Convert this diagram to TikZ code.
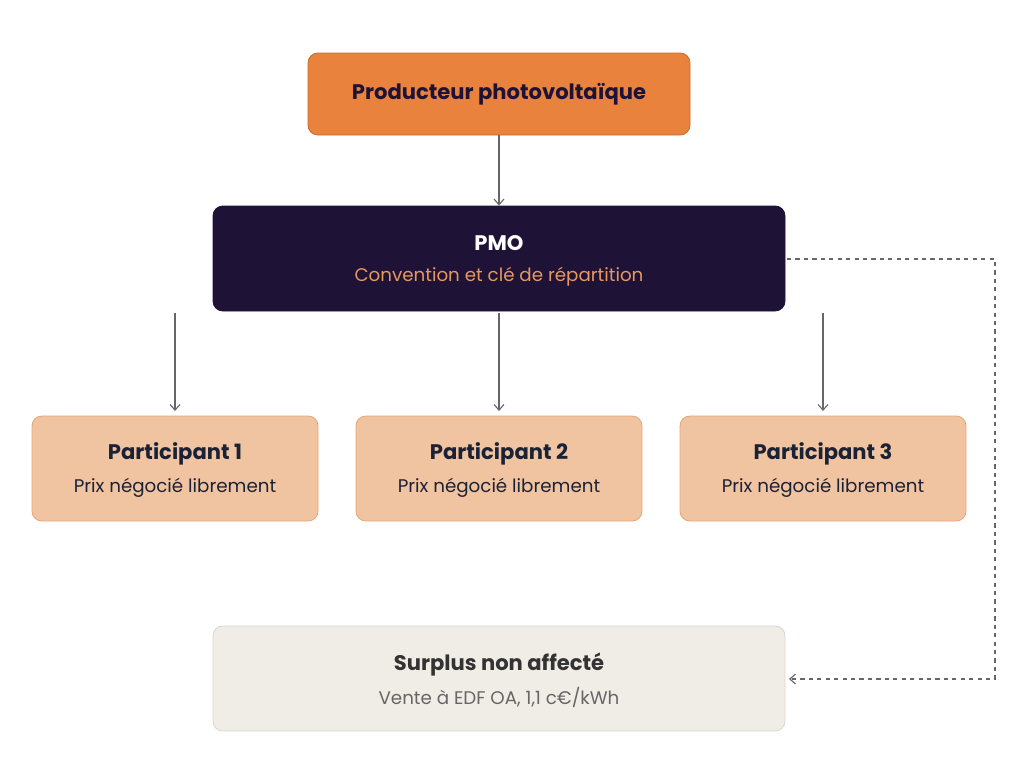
\documentclass[tikz,border=0pt]{standalone}
\usepackage{fontspec}
\setmainfont{Poppins}
\usetikzlibrary{arrows.meta}
\definecolor{navy}{HTML}{1E1236}
\definecolor{orangeA}{HTML}{E8823C}
\definecolor{orangeB}{HTML}{E8975F}
\definecolor{peach}{HTML}{F0C4A0}
\definecolor{peachline}{HTML}{E8A576}
\definecolor{sand}{HTML}{F0EDE6}
\definecolor{sandline}{HTML}{DAD6CE}
\definecolor{darktext}{HTML}{1C2236}
\definecolor{link}{HTML}{666666}
\tikzset{
  box/.style={draw,rounded corners=7pt,line width=0.6pt,inner sep=0pt,align=center},
  title/.style={font=\fontsize{15}{18}\selectfont\bfseries},
  sub/.style={font=\fontsize{13}{16}\selectfont},
  link/.style={draw=link,line width=0.8pt,-{Straight Barb[length=4pt,width=7pt]}}
}
\begin{document}
\begin{tikzpicture}[x=0.025cm,y=-0.025cm]
        \useasboundingbox (0,0) rectangle (1024,778);
        % boxes
        \node[box,fill=orangeA,draw=orangeA!85!black,minimum width=382*0.025cm,minimum height=82*0.025cm,text=navy,title] (prod) at (499,94) {Producteur photovoltaïque};
        \node[box,fill=navy,draw=navy,minimum width=572*0.025cm,minimum height=105*0.025cm] (pmo) at (499,258.5) {};
        \node[text=white,title] (pmot) at (499,243) {PMO};
        \node[text=orangeB,sub] (pmos) at (499,277) {Convention et clé de répartition};

        \foreach \i/\x in {1/175,2/499,3/823} {
          \node[box,fill=peach,draw=peachline,minimum width=286*0.025cm,minimum height=105*0.025cm] (part\i) at (\x,468.5) {};
          \node[text=darktext,title] (part\i t) at (\x,454) {Participant \i};
          \node[text=darktext,sub] (part\i s) at (\x,488) {Prix négocié librement};
          \coordinate (src\i) at (\x,313);
          \draw[link] (src\i) -- (\x,411);
        }

        \node[box,fill=sand,draw=sandline,minimum width=572*0.025cm,minimum height=105*0.025cm] (surp) at (499,678.5) {};
        \node[text=black!80,title] (surpt) at (499,664) {Surplus non affecté};
        \node[text=black!60,sub] (surps) at (499,697) {Vente à EDF OA, 1,1 c€/kWh};

        % connectors
        \draw[link] (prod) -- (pmo);
        \coordinate (d1) at (787,259);
        \coordinate (d2) at (995,259);
        \coordinate (d3) at (995,679);
        \coordinate (d4) at (789,679);
        \draw[link,dashed] (d1) -- (d2) -- (d3) -- (d4);
\end{tikzpicture}
\end{document}
